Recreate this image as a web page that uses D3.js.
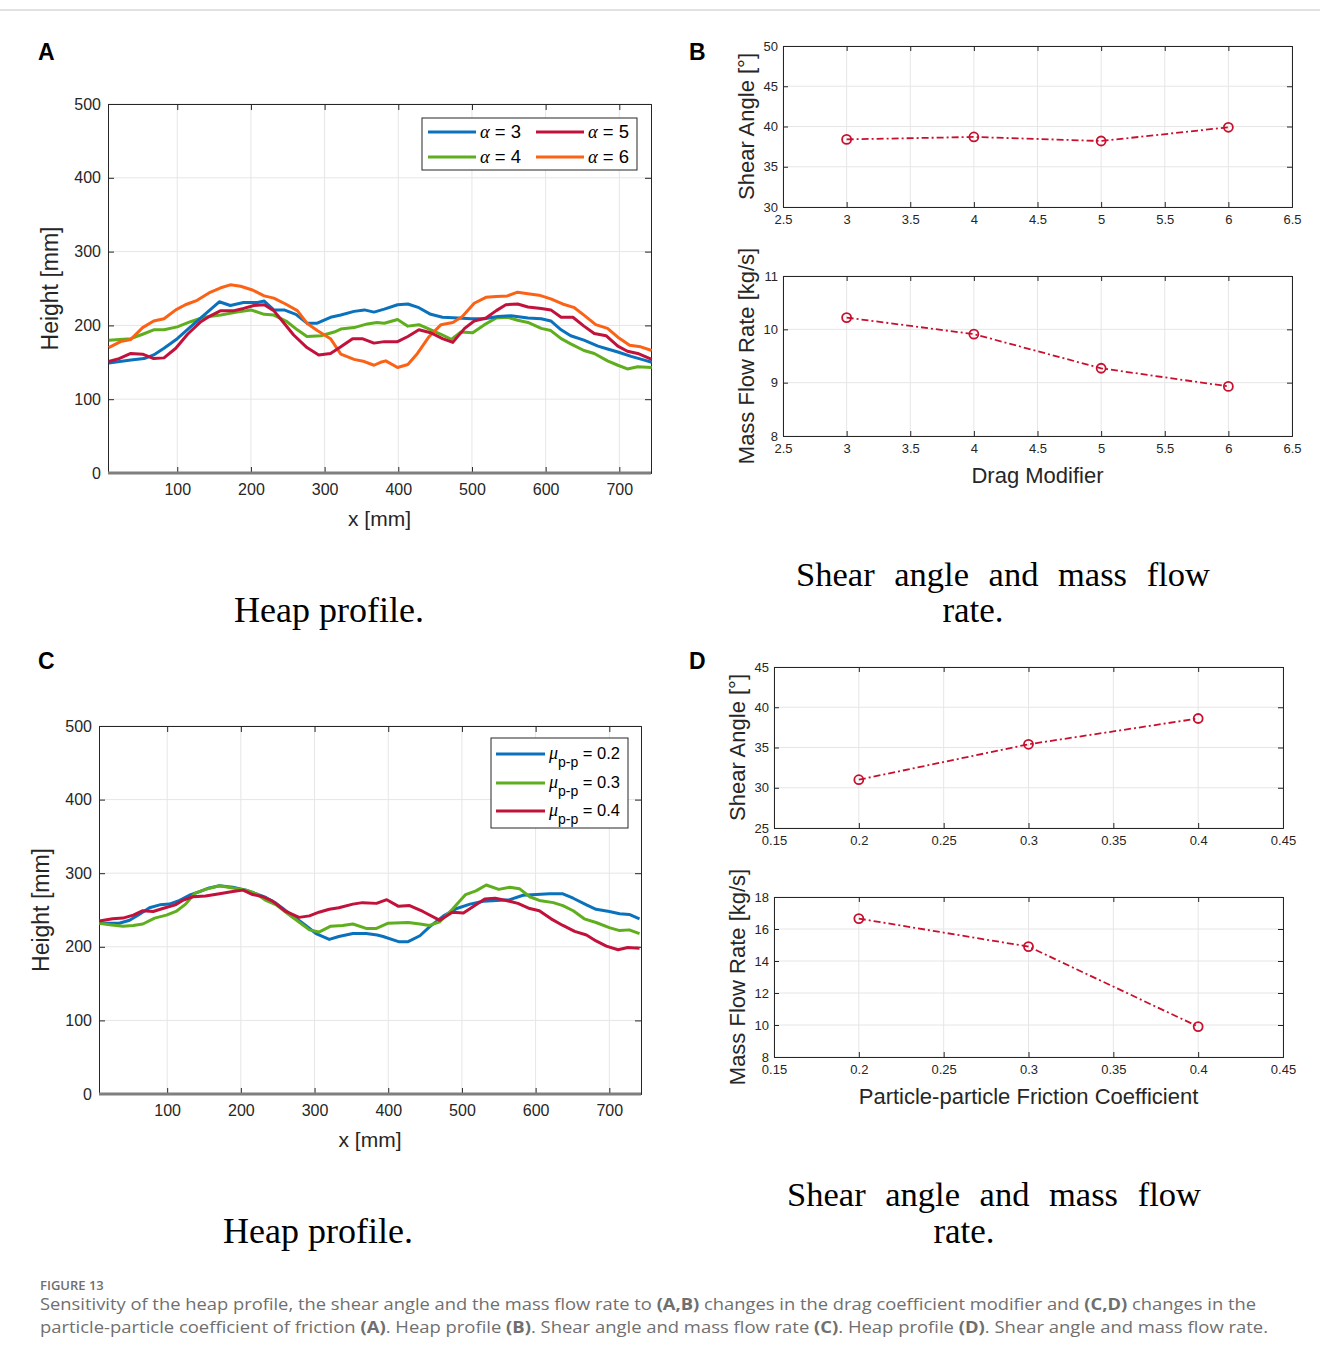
<!DOCTYPE html>
<html><head><meta charset="utf-8">
<script src="https://cdn.jsdelivr.net/npm/d3@7"></script>
<style>body{margin:0;background:#fff} svg{display:block}</style>
</head><body>
<script>
// ---------------- DATA ----------------
// Panel A: heap profile for drag modifier alpha (x [mm], height [mm])
const alpha3 = [[7,149],[37,153],[55,155],[68,160],[82,169],[100,182],[118,198],[141,218],[157,232],[172,227],[190,231],[209,231],[218,233],[231,221],[245,221],[261,215],[276,203],[290,203],[308,211],[322,214],[340,219],[354,221],[367,218],[381,222],[399,228],[413,229],[428,224],[444,215],[460,211],[481,210],[499,209],[517,209],[535,212],[553,213],[576,210],[594,209],[607,206],[621,194],[634,186],[652,180],[671,172],[684,168],[698,164],[716,158],[734,153],[744,150]];
const alpha4 = [[7,180],[37,182],[53,188],[68,194],[82,194],[100,198],[118,205],[136,211],[159,214],[181,218],[200,221],[218,215],[231,214],[249,205],[263,194],[276,185],[295,186],[313,191],[322,195],[340,197],[358,202],[371,204],[381,203],[399,208],[413,199],[428,201],[442,195],[458,188],[472,181],[485,191],[501,190],[517,201],[533,210],[548,211],[562,207],[576,204],[594,196],[607,193],[621,182],[634,175],[652,166],[666,162],[684,152],[698,146],[711,141],[725,144],[744,143]];
const alpha5 = [[7,151],[21,155],[37,162],[53,161],[68,155],[82,156],[98,169],[114,188],[132,205],[145,213],[159,220],[177,220],[190,223],[204,227],[218,228],[231,220],[245,203],[258,187],[276,170],[292,160],[308,162],[322,171],[338,182],[351,182],[367,176],[381,178],[399,178],[413,185],[428,194],[444,190],[460,182],[474,177],[490,196],[503,206],[519,210],[533,220],[546,228],[562,229],[576,225],[594,223],[607,221],[621,211],[637,211],[652,199],[666,189],[682,186],[698,172],[711,165],[725,162],[744,154]];
const alpha6 = [[7,170],[23,178],[37,181],[53,197],[68,206],[82,209],[98,221],[111,228],[127,234],[143,244],[159,251],[172,255],[186,253],[202,248],[218,240],[231,237],[247,229],[263,220],[276,203],[290,193],[308,182],[322,161],[340,154],[354,151],[367,146],[376,150],[383,152],[399,143],[413,147],[426,162],[442,185],[458,201],[474,204],[487,212],[503,230],[519,238],[533,239],[548,240],[562,245],[576,243],[591,241],[607,236],[623,229],[639,224],[652,214],[668,201],[684,196],[698,184],[714,173],[729,171],[744,166]];
// Panel C: heap profile for particle-particle friction mu
const mu02 = [[8,232],[35,232],[49,236],[62,244],[76,253],[90,257],[103,258],[117,263],[130,270],[144,275],[157,280],[171,283],[189,281],[207,277],[221,272],[234,267],[248,259],[261,249],[275,239],[288,229],[302,218],[320,210],[333,214],[352,218],[370,218],[385,216],[393,214],[414,207],[427,207],[443,215],[456,227],[475,242],[493,252],[511,258],[529,262],[547,263],[565,264],[583,270],[601,271],[619,272],[637,272],[651,266],[669,257],[682,251],[700,248],[714,245],[727,244],[741,238]];
const mu03 = [[8,232],[22,230],[40,228],[54,229],[67,231],[83,239],[99,243],[112,248],[125,258],[138,273],[152,278],[171,283],[189,280],[207,277],[221,272],[234,263],[248,257],[261,247],[277,235],[293,223],[306,220],[322,228],[338,229],[352,231],[370,225],[384,225],[400,232],[427,233],[443,231],[456,229],[470,234],[487,251],[505,271],[519,276],[533,284],[550,278],[565,281],[578,279],[592,268],[605,263],[624,260],[637,256],[651,249],[666,238],[682,233],[700,226],[714,222],[727,223],[741,218]];
const mu04 = [[8,235],[26,238],[40,239],[54,243],[67,249],[81,248],[94,252],[111,257],[121,263],[135,268],[152,269],[171,272],[189,275],[203,277],[216,271],[230,268],[243,262],[261,248],[279,240],[293,242],[306,247],[320,251],[333,253],[352,258],[365,260],[384,259],[398,264],[414,255],[429,256],[447,248],[470,236],[487,247],[502,246],[519,257],[531,265],[545,266],[560,263],[576,259],[592,252],[605,249],[621,238],[637,229],[653,221],[669,216],[682,208],[696,201],[712,196],[725,199],[741,198]];

// Panel B: drag modifier sensitivity
const dragModifier = [3, 4, 5, 6];
const shearAngleB = [38.4, 38.7, 38.2, 39.9];
const massFlowB = [10.22, 9.91, 9.27, 8.93];
// Panel D: particle-particle friction sensitivity
const frictionCoef = [0.2, 0.3, 0.4];
const shearAngleD = [31.0, 35.4, 38.6];
const massFlowD = [16.65, 14.9, 9.9];

const heapTicksX = [100, 200, 300, 400, 500, 600, 700];
const heapTicksY = [0, 100, 200, 300, 400, 500];
const dragTicks = [2.5, 3, 3.5, 4, 4.5, 5, 5.5, 6, 6.5];
const fricTicks = [0.15, 0.2, 0.25, 0.3, 0.35, 0.4, 0.45];
const shearTicksB = [30, 35, 40, 45, 50];
const flowTicksB = [8, 9, 10, 11];
const shearTicksD = [25, 30, 35, 40, 45];
const flowTicksD = [8, 10, 12, 14, 16, 18];

// ---------------- DRAWING ----------------
const W = 1320, H = 1360;
const svg = d3.select("body").append("svg").attr("width", W).attr("height", H);
const AX = "#262626", GRID = "#e6e6e6", SANS = "'Liberation Sans', Arial, sans-serif";
const RED = "#c8102e";

svg.append("line").attr("x1", 0).attr("x2", W).attr("y1", 10).attr("y2", 10)
  .attr("stroke", "#d9d9d9").attr("stroke-width", 1.5);

function frame(g, x, y, xTicks, yTicks, opt) {
  const [x0, x1] = x.range(), [y0, y1] = y.range(); // y0 bottom
  g.append("g").selectAll("line").data(xTicks).join("line")
    .attr("x1", d => x(d)).attr("x2", d => x(d)).attr("y1", y0).attr("y2", y1)
    .attr("stroke", GRID).attr("stroke-width", 1);
  g.append("g").selectAll("line").data(yTicks).join("line")
    .attr("y1", d => y(d)).attr("y2", d => y(d)).attr("x1", x0).attr("x2", x1)
    .attr("stroke", GRID).attr("stroke-width", 1);
  const tl = opt.tickLen;
  const fmt = d => d;
  const bx = g.append("g").attr("transform", `translate(0,${y0})`)
    .call(d3.axisBottom(x).tickValues(xTicks).tickSize(-tl).tickPadding(opt.padX).tickFormat(fmt));
  const tx = g.append("g").attr("transform", `translate(0,${y1})`)
    .call(d3.axisTop(x).tickValues(xTicks).tickSize(-tl).tickFormat(""));
  const ly = g.append("g").attr("transform", `translate(${x0},0)`)
    .call(d3.axisLeft(y).tickValues(yTicks).tickSize(-tl).tickPadding(opt.padY).tickFormat(fmt));
  const ry = g.append("g").attr("transform", `translate(${x1},0)`)
    .call(d3.axisRight(y).tickValues(yTicks).tickSize(-tl).tickFormat(""));
  [bx, tx, ly, ry].forEach(a => {
    a.select(".domain").attr("stroke", AX).attr("stroke-width", 1);
    a.selectAll(".tick line").attr("stroke", AX).attr("stroke-width", 1);
    a.selectAll("text").attr("fill", AX).attr("font-family", SANS).attr("font-size", opt.fs);
  });
  return {bx, ly};
}

function heapPanel(cfg) {
  const g = svg.append("g");
  const x = d3.scaleLinear().domain(cfg.xDomain).range([cfg.left, cfg.right]);
  const y = d3.scaleLinear().domain([0, 500]).range([cfg.bottom, cfg.top]);
  frame(g, x, y, heapTicksX, heapTicksY, {tickLen: 6, padX: 11, padY: 7, fs: 16});
  g.append("line").attr("x1", cfg.left).attr("x2", cfg.right).attr("y1", y(0)).attr("y2", y(0))
    .attr("stroke", "#7f7f7f").attr("stroke-width", 3);
  const line = d3.line().x(d => x(d[0])).y(d => y(d[1]));
  cfg.series.forEach(s => {
    g.append("path").datum(s.data).attr("d", line).attr("fill", "none")
      .attr("stroke", s.color).attr("stroke-width", 3).attr("stroke-linejoin", "round");
  });
  g.append("text").attr("transform", `translate(${cfg.left - 50},${(cfg.top + cfg.bottom) / 2}) rotate(-90)`)
    .attr("text-anchor", "middle").attr("font-family", SANS).attr("font-size", 23).attr("fill", AX)
    .text("Height [mm]");
  g.append("text").attr("x", (cfg.left + cfg.right) / 2).attr("y", cfg.bottom + 53)
    .attr("text-anchor", "middle").attr("font-family", SANS).attr("font-size", 21).attr("fill", AX)
    .text("x [mm]");
  return g;
}

const colA = {a3: "#0a72bd", a4: "#5fae1e", a5: "#c2113a", a6: "#fb6216"};

// Panel A
const gA = heapPanel({left: 108, right: 651, top: 104, bottom: 473, xDomain: [6, 743],
  series: [
    {data: alpha4, color: colA.a4}, {data: alpha3, color: colA.a3},
    {data: alpha6, color: colA.a6}, {data: alpha5, color: colA.a5}
  ]});
(function () {
  const L = gA.append("g");
  L.append("rect").attr("x", 422).attr("y", 118).attr("width", 215).attr("height", 52)
    .attr("fill", "#fff").attr("stroke", "#262626").attr("stroke-width", 1);
  const items = [
    {lab: "3", c: colA.a3, x: 428, y: 132},
    {lab: "5", c: colA.a5, x: 536, y: 132},
    {lab: "4", c: colA.a4, x: 428, y: 157},
    {lab: "6", c: colA.a6, x: 536, y: 157}
  ];
  items.forEach(it => {
    L.append("line").attr("x1", it.x).attr("x2", it.x + 48).attr("y1", it.y).attr("y2", it.y)
      .attr("stroke", it.c).attr("stroke-width", 3);
    const t = L.append("text").attr("x", it.x + 52).attr("y", it.y + 6).attr("font-size", 18.5).attr("fill", "#000");
    t.append("tspan").attr("font-family", "'Liberation Serif', serif").attr("font-style", "italic").text("α");
    t.append("tspan").attr("font-family", SANS).text(" = " + it.lab);
  });
})();

// Panel C
const colC = {m2: "#0a72bd", m3: "#5fae1e", m4: "#c2113a"};
const gC = heapPanel({left: 99, right: 641, top: 726, bottom: 1094, xDomain: [7.5, 743],
  series: [
    {data: mu02, color: colC.m2}, {data: mu03, color: colC.m3}, {data: mu04, color: colC.m4}
  ]});
(function () {
  const L = gC.append("g");
  L.append("rect").attr("x", 491).attr("y", 738).attr("width", 137).attr("height", 90)
    .attr("fill", "#fff").attr("stroke", "#262626").attr("stroke-width", 1);
  const labs = ["0.2", "0.3", "0.4"], cols = [colC.m2, colC.m3, colC.m4], ys = [754, 783, 811];
  labs.forEach((lab, i) => {
    L.append("line").attr("x1", 496).attr("x2", 545).attr("y1", ys[i]).attr("y2", ys[i])
      .attr("stroke", cols[i]).attr("stroke-width", 3);
    const t = L.append("text").attr("x", 549).attr("y", ys[i] + 5).attr("font-size", 16.5).attr("fill", "#000");
    t.append("tspan").attr("font-family", "'Liberation Serif', serif").attr("font-style", "italic").attr("font-size", 18).text("μ");
    t.append("tspan").attr("font-family", SANS).attr("font-size", 14).attr("dy", 8).text("p-p");
    t.append("tspan").attr("font-family", SANS).attr("dy", -8).text(" = " + lab);
  });
})();

function smallPanel(cfg) {
  const g = svg.append("g");
  const x = d3.scaleLinear().domain(cfg.xDomain).range([cfg.left, cfg.right]);
  const y = d3.scaleLinear().domain(cfg.yDomain).range([cfg.bottom, cfg.top]);
  frame(g, x, y, cfg.xTicks, cfg.yTicks, {tickLen: 5, padX: 8, padY: 5, fs: 13});
  const pts = cfg.xs.map((v, i) => [v, cfg.ys[i]]);
  g.append("path").datum(pts).attr("d", d3.line().x(d => x(d[0])).y(d => y(d[1])))
    .attr("fill", "none").attr("stroke", RED).attr("stroke-width", 1.8)
    .attr("stroke-dasharray", "7,3,2,3");
  g.append("g").selectAll("circle").data(pts).join("circle")
    .attr("cx", d => x(d[0])).attr("cy", d => y(d[1])).attr("r", 4.5)
    .attr("fill", "none").attr("stroke", RED).attr("stroke-width", 1.8);
  g.append("text").attr("transform", `translate(${cfg.ylabX},${(cfg.top + cfg.bottom) / 2}) rotate(-90)`)
    .attr("text-anchor", "middle").attr("font-family", SANS).attr("font-size", 22).attr("fill", AX)
    .text(cfg.ylab);
  if (cfg.xlab) g.append("text").attr("x", (cfg.left + cfg.right) / 2).attr("y", cfg.bottom + 47)
    .attr("text-anchor", "middle").attr("font-family", SANS).attr("font-size", 22).attr("fill", AX)
    .text(cfg.xlab);
}

smallPanel({left: 783, right: 1292, top: 46, bottom: 207, xDomain: [2.5, 6.5], yDomain: [30, 50],
  xTicks: dragTicks, yTicks: shearTicksB, xs: dragModifier, ys: shearAngleB,
  ylab: "Shear Angle [°]", ylabX: 754});
smallPanel({left: 783, right: 1292, top: 276, bottom: 436, xDomain: [2.5, 6.5], yDomain: [8, 11],
  xTicks: dragTicks, yTicks: flowTicksB, xs: dragModifier, ys: massFlowB,
  ylab: "Mass Flow Rate [kg/s]", ylabX: 754, xlab: "Drag Modifier"});
smallPanel({left: 774, right: 1283, top: 667, bottom: 828, xDomain: [0.15, 0.45], yDomain: [25, 45],
  xTicks: fricTicks, yTicks: shearTicksD, xs: frictionCoef, ys: shearAngleD,
  ylab: "Shear Angle [°]", ylabX: 745});
smallPanel({left: 774, right: 1283, top: 897, bottom: 1057, xDomain: [0.15, 0.45], yDomain: [8, 18],
  xTicks: fricTicks, yTicks: flowTicksD, xs: frictionCoef, ys: massFlowD,
  ylab: "Mass Flow Rate [kg/s]", ylabX: 745, xlab: "Particle-particle Friction Coefficient"});

[["A", 38, 60], ["B", 689, 60], ["C", 38, 669], ["D", 689, 669]].forEach(([t, x, y]) =>
  svg.append("text").attr("x", x).attr("y", y).attr("font-family", SANS).attr("font-weight", "bold")
    .attr("font-size", 23).attr("fill", "#000").text(t));

const SERIF = "'Liberation Serif', 'Times New Roman', serif";
function sub(x, y, t, fs, ws) {
  const e = svg.append("text").attr("x", x).attr("y", y).attr("text-anchor", "middle").attr("font-family", SERIF)
    .attr("font-size", fs).attr("fill", "#000").text(t);
  if (ws) e.style("word-spacing", ws + "px");
}
sub(329, 622, "Heap profile.", 36);
sub(1003, 586, "Shear angle and mass flow", 34.5, 11);
sub(973, 622, "rate.", 35);
sub(318, 1243, "Heap profile.", 36);
sub(994, 1206, "Shear angle and mass flow", 34.5, 11);
sub(964, 1243, "rate.", 35);

const CAP = "'Open Sans', 'Noto Sans', sans-serif", CAPC = "#6f6f6f";
svg.append("text").attr("x", 40).attr("y", 1290).attr("font-family", CAP).attr("font-size", 13)
  .attr("font-weight", 600).attr("fill", CAPC).text("FIGURE 13");
function capLine(y, parts, len) {
  const t = svg.append("text").attr("x", 40).attr("y", y).attr("font-family", CAP).attr("font-size", 16.5)
    .attr("fill", CAPC).attr("textLength", len).attr("lengthAdjust", "spacingAndGlyphs");
  parts.forEach(p => t.append("tspan").attr("font-weight", p[1] ? 700 : 400).text(p[0]));
}
capLine(1310, [["Sensitivity of the heap profile, the shear angle and the mass flow rate to "], ["(A,B)", 1],
  [" changes in the drag coefficient modifier and "], ["(C,D)", 1], [" changes in the"]], 1216);
capLine(1333, [["particle-particle coefficient of friction "], ["(A)", 1], [". Heap profile "], ["(B)", 1],
  [". Shear angle and mass flow rate "], ["(C)", 1], [". Heap profile "], ["(D)", 1],
  [". Shear angle and mass flow rate."]], 1228);
</script>
</body></html>
